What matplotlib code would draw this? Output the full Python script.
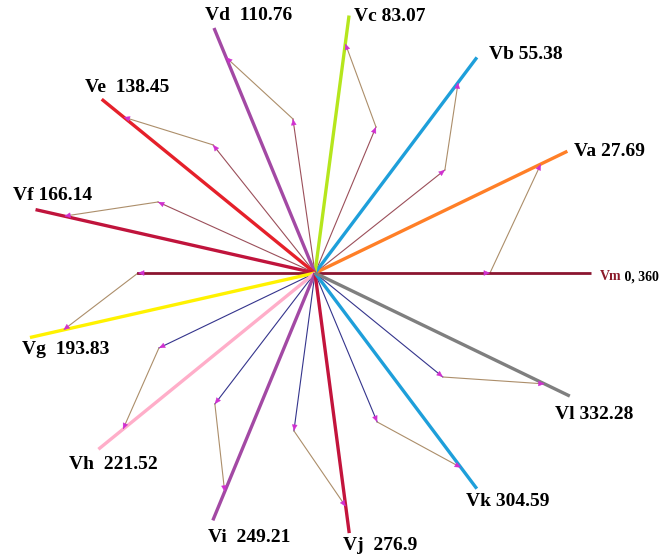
import numpy as np
import matplotlib.pyplot as plt
from matplotlib.patches import FancyArrowPatch

# phasor data: Vm first, then Va..Vl
names = ['Vm', 'Va', 'Vb', 'Vc', 'Vd', 'Ve', 'Vf', 'Vg', 'Vh', 'Vi', 'Vj', 'Vk', 'Vl']
angles = [0, 27.69, 55.38, 83.07, 110.76, 138.45, 166.14, 193.83, 221.52, 249.21, 276.9, 304.59, 332.28]
mags = [0.97, 1.0, 1.0, 0.99, 1.0, 1.0, 1.01, 1.03, 1.015, 1.01, 1.0, 1.0, 1.01]
angle_text = ['0, 360', '27.69', '55.38', '83.07', ' 110.76', ' 138.45', '166.14',
              ' 193.83', ' 221.52', ' 249.21', ' 276.9', '304.59', '332.28']

# construction lines for Va..Vl: inner point (polar) and point reached on the vector
inner_ang = [0, 40.8, 69.0, 97.5, 126.2, 153.8, 180, 207.6, 234.9, 263, 291, 318.5]
inner_mag = [0.614, 0.602, 0.597, 0.593, 0.606, 0.614, 0.621, 0.618, 0.611, 0.607, 0.609, 0.599]
tip_mag = [0.895, 0.884, 0.882, 0.88, 0.897, 0.906, 0.909, 0.90, 0.893, 0.898, 0.902, 0.91]

colors = ['#8B1530', '#FF7F27', '#1E9FDA', '#B5E61D', '#A349A4', '#E5202A', '#C0143C',
          '#FFF200', '#FFAEC9', '#A349A4', '#C3143C', '#1E9FDA', '#7F7F7F']
widths = [2.0, 2.4, 2.4, 2.4, 2.4, 2.4, 2.4, 2.4, 2.4, 2.4, 2.4, 2.4, 2.4]

# label offsets from the vector end, in pixels (right, down)
label_off = [(8, 4), (7, 0), (12, -3), (5, 1), (-9, -13), (-17, -12), (-23, -14),
             (-8, 12), (-29, 15), (-5, 17), (-6, 12), (-11, 13), (-15, 18)]

UP_THIN = '#9B4F5A'
LOW_THIN = '#34348C'
TAN = '#AC8E6A'
HEAD = '#D030D0'


def pol(r, a):
    t = np.radians(a)
    return r * np.cos(t), r * np.sin(t)


fig = plt.figure(figsize=(6.6, 5.54), dpi=100)
ax = fig.add_axes([0, 0, 1, 1])
ax.set_xlim(-315 / 285, 345 / 285)
ax.set_ylim(-281 / 262, 273 / 262)
ax.axis('off')


def head(p0, p1):
    # small magenta arrowhead at p1 pointing from p0
    d = np.array(p1) - np.array(p0)
    d = d / np.hypot(*d) * 0.015
    a = FancyArrowPatch(tuple(np.array(p1) - d), tuple(p1), arrowstyle='-|>,head_length=0.5,head_width=0.22',
                        mutation_scale=8, color=HEAD, lw=0.3, shrinkA=0, shrinkB=0, zorder=5)
    ax.add_patch(a)


# construction lines
for i in range(12):
    k = i + 1
    p_in = pol(inner_mag[i], inner_ang[i])
    p_tip = pol(tip_mag[i], angles[k])
    if k == 1:
        pass  # first part lies on Vm
    elif k == 7:
        ax.plot([0, p_in[0]], [0, p_in[1]], color=colors[0], lw=2.0, zorder=3)
    else:
        c = UP_THIN if k < 7 else LOW_THIN
        ax.plot([0, p_in[0]], [0, p_in[1]], color=c, lw=0.8, zorder=2)
    ax.plot([p_in[0], p_tip[0]], [p_in[1], p_tip[1]], color=TAN, lw=0.8, zorder=2)
    head((0, 0), p_in)
    head(p_in, p_tip)

# main vectors
for k in range(13):
    x, y = pol(mags[k], angles[k])
    ax.plot([0, x], [0, y], color=colors[k], lw=widths[k], zorder=4, solid_capstyle='butt')
    dx, dy = label_off[k]
    if k == 0:
        t = ax.annotate(names[k], xy=(x, y), xytext=(dx, -dy), textcoords='offset pixels',
                        ha='left', va='center', fontsize=10, fontweight='bold',
                        family='Liberation Serif', color='#8B1A2A')
        ax.annotate(' ' + angle_text[k], xy=(1, 0), xycoords=t, ha='left', va='bottom',
                    fontsize=10, fontweight='bold', family='Liberation Serif', color='black')
    else:
        ax.annotate(names[k] + ' ' + angle_text[k], xy=(x, y), xytext=(dx, -dy),
                    textcoords='offset pixels', ha='left', va='center', fontsize=14,
                    fontweight='bold', family='Liberation Serif', color='black')

fig.savefig('out.png', dpi=100)
